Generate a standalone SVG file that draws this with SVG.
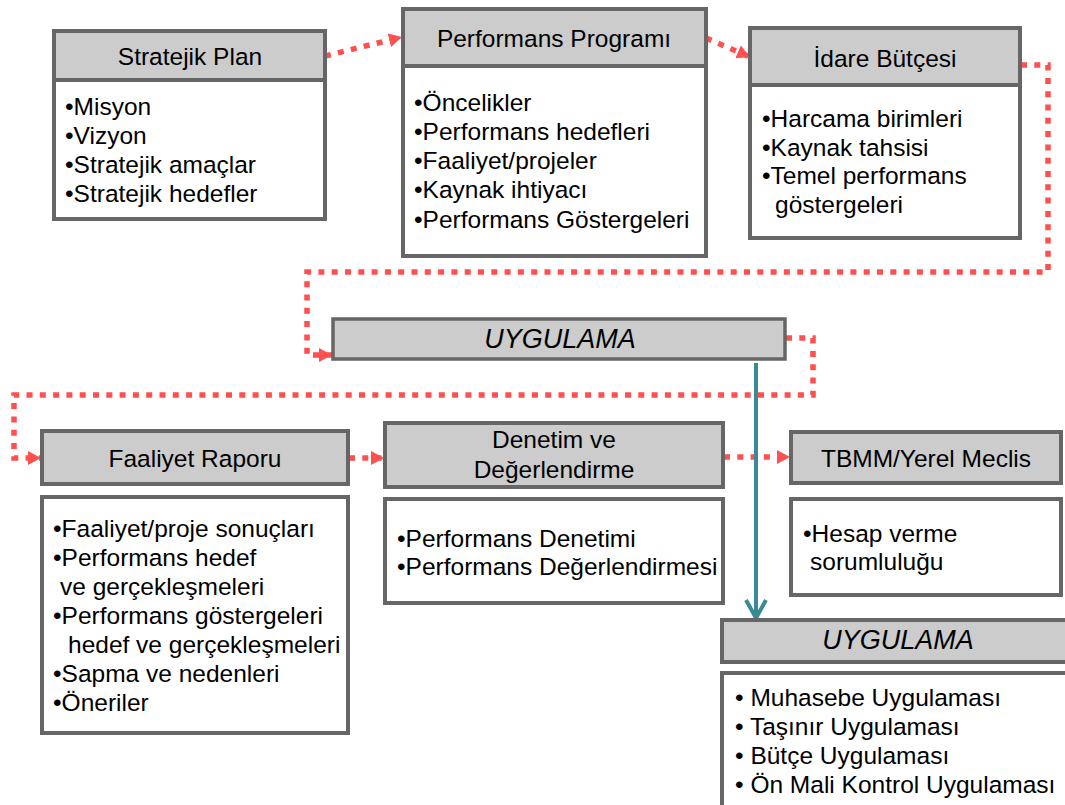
<svg xmlns="http://www.w3.org/2000/svg" width="1065" height="805" viewBox="0 0 1065 805">
<defs>
<style>
.hd{fill:#cccccc;stroke:#666666;stroke-width:4}
.bd{fill:#ffffff;stroke:#666666;stroke-width:4}
text{font-family:"Liberation Sans",Arial,sans-serif;font-size:24.5px;fill:#000}
.c{text-anchor:middle}
.it{font-style:italic;font-size:27px}
.dot{fill:none;stroke:#ff5050;stroke-width:5.5;stroke-dasharray:6 7.3}
.teal{fill:none;stroke:#3a8a93;stroke-width:4}
</style>
<marker id="ra" markerUnits="userSpaceOnUse" markerWidth="14" markerHeight="14" refX="13" refY="7" orient="auto">
<path d="M0,0 L13,7 L0,14 z" fill="#ff5050"/>
</marker>
<marker id="ta" markerUnits="userSpaceOnUse" markerWidth="24" markerHeight="24" refX="20" refY="12" orient="auto">
<path d="M2,2 L20,12 L2,22" fill="none" stroke="#3a8a93" stroke-width="4"/>
</marker>
</defs>
<rect width="1065" height="805" fill="#ffffff"/>

<g id="connectors">
<path class="dot" d="M325,56 L402,37" marker-end="url(#ra)"/>
<path class="dot" d="M706,38 L750,57" marker-end="url(#ra)"/>
<path class="dot" d="M1021,65 H1048 V272 H307 V355 H332" marker-end="url(#ra)"/>
<path class="dot" d="M786,338 H813 V395 H14 V458 H41" marker-end="url(#ra)"/>
<path class="dot" d="M349,458 H384" marker-end="url(#ra)"/>
<path class="dot" d="M724,457 H790" marker-end="url(#ra)"/>
<path class="teal" d="M756,363 V618" marker-end="url(#ta)"/>
</g>

<g id="stratejik-plan">
<rect class="hd" x="54" y="31" width="271" height="49"/>
<rect class="bd" x="54" y="80" width="271" height="139"/>
<text class="c" x="190" y="65">Stratejik Plan</text>
<text x="65" y="115">•Misyon</text>
<text x="65" y="144">•Vizyon</text>
<text x="65" y="173">•Stratejik amaçlar</text>
<text x="65" y="202">•Stratejik hedefler</text>
</g>

<g id="performans-programi">
<rect class="hd" x="403" y="9" width="303" height="57"/>
<rect class="bd" x="403" y="66" width="303" height="190"/>
<text class="c" x="554" y="47">Performans Programı</text>
<text x="414" y="111">•Öncelikler</text>
<text x="414" y="140">•Performans hedefleri</text>
<text x="414" y="169">•Faaliyet/projeler</text>
<text x="414" y="198">•Kaynak ihtiyacı</text>
<text x="414" y="228">•Performans Göstergeleri</text>
</g>

<g id="idare-butcesi">
<rect class="hd" x="750" y="28" width="270" height="57"/>
<rect class="bd" x="750" y="85" width="270" height="153"/>
<text class="c" x="885" y="67">İdare Bütçesi</text>
<text x="762" y="127">•Harcama birimleri</text>
<text x="762" y="156">•Kaynak tahsisi</text>
<text x="762" y="184">•Temel performans</text>
<text x="775" y="213">göstergeleri</text>
</g>

<g id="uygulama-1">
<rect class="hd" x="333" y="319" width="452" height="40" style="stroke-width:3.5"/>
<text class="c it" x="560" y="348">UYGULAMA</text>
</g>

<g id="faaliyet-raporu">
<rect class="hd" x="42" y="431" width="306" height="53"/>
<rect class="bd" x="42" y="497" width="306" height="236"/>
<text class="c" x="195" y="467">Faaliyet Raporu</text>
<text x="53" y="537">•Faaliyet/proje sonuçları</text>
<text x="53" y="566">•Performans hedef</text>
<text x="60" y="595">ve gerçekleşmeleri</text>
<text x="53" y="624">•Performans göstergeleri</text>
<text x="68" y="653">hedef ve gerçekleşmeleri</text>
<text x="53" y="682">•Sapma ve nedenleri</text>
<text x="53" y="711">•Öneriler</text>
</g>

<g id="denetim">
<rect class="hd" x="385" y="423" width="338" height="64"/>
<rect class="bd" x="385" y="499" width="338" height="104"/>
<text class="c" x="554" y="448">Denetim ve</text>
<text class="c" x="554" y="478">Değerlendirme</text>
<text x="397" y="547">•Performans Denetimi</text>
<text x="397" y="575">•Performans Değerlendirmesi</text>
</g>

<g id="tbmm">
<rect class="hd" x="791" y="432" width="270" height="51"/>
<rect class="bd" x="791" y="499" width="270" height="96"/>
<text class="c" x="926" y="467">TBMM/Yerel Meclis</text>
<text x="803" y="542">•Hesap verme</text>
<text x="810" y="570">sorumluluğu</text>
</g>

<g id="uygulama-2">
<rect class="hd" x="722" y="620" width="400" height="42"/>
<rect class="bd" x="722" y="673" width="400" height="180"/>
<text class="c it" x="898" y="649">UYGULAMA</text>
<text x="735" y="706">• Muhasebe Uygulaması</text>
<text x="735" y="735">• Taşınır Uygulaması</text>
<text x="735" y="764">• Bütçe Uygulaması</text>
<text x="735" y="793">• Ön Mali Kontrol Uygulaması</text>
</g>
</svg>
